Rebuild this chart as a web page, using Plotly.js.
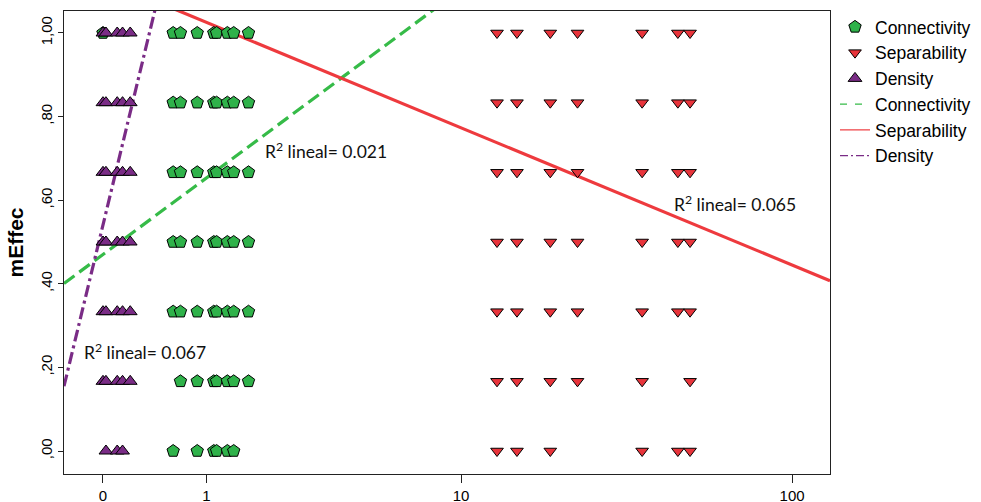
<!DOCTYPE html>
<html>
<head>
<meta charset="utf-8">
<script src="https://cdn.plot.ly/plotly-3.0.1.min.js"></script>
<style>
  html, body { margin: 0; padding: 0; background: #ffffff; }
  #chart { width: 981px; height: 502px; }
</style>
</head>
<body>
<div id="chart"></div>
<script>
// mEffec against each measure; the x axis is drawn on a log10(x + 1) scale.

// Connectivity observations
var connX = [
  0, 0.6, 0.68, 0.88, 1.1, 1.14, 1.3, 1.4, 1.65,
  0.6, 0.68, 0.88, 1.1, 1.14, 1.3, 1.4, 1.65,
  0.6, 0.68, 0.88, 1.1, 1.14, 1.3, 1.4, 1.65,
  0.6, 0.68, 0.88, 1.1, 1.14, 1.3, 1.4, 1.65,
  0.6, 0.68, 0.88, 1.1, 1.14, 1.3, 1.4, 1.65,
  0.68, 0.88, 1.1, 1.14, 1.3, 1.4, 1.65,
  0.6, 0.88, 1.1, 1.14, 1.3, 1.4
];
var connY = [
  1, 1, 1, 1, 1, 1, 1, 1, 1,
  0.8333, 0.8333, 0.8333, 0.8333, 0.8333, 0.8333, 0.8333, 0.8333,
  0.6667, 0.6667, 0.6667, 0.6667, 0.6667, 0.6667, 0.6667, 0.6667,
  0.5, 0.5, 0.5, 0.5, 0.5, 0.5, 0.5, 0.5,
  0.3333, 0.3333, 0.3333, 0.3333, 0.3333, 0.3333, 0.3333, 0.3333,
  0.1667, 0.1667, 0.1667, 0.1667, 0.1667, 0.1667, 0.1667,
  0, 0, 0, 0, 0, 0
];

// Separability observations
var sepX = [
  13, 15, 19, 23, 36, 46, 50,
  13, 15, 19, 23, 36, 46, 50,
  13, 15, 19, 23, 36, 46, 50,
  13, 15, 19, 23, 36, 46, 50,
  13, 15, 19, 23, 36, 46, 50,
  13, 15, 19, 23, 36, 50,
  13, 15, 19, 36, 46, 50
];
var sepY = [
  1, 1, 1, 1, 1, 1, 1,
  0.8333, 0.8333, 0.8333, 0.8333, 0.8333, 0.8333, 0.8333,
  0.6667, 0.6667, 0.6667, 0.6667, 0.6667, 0.6667, 0.6667,
  0.5, 0.5, 0.5, 0.5, 0.5, 0.5, 0.5,
  0.3333, 0.3333, 0.3333, 0.3333, 0.3333, 0.3333, 0.3333,
  0.1667, 0.1667, 0.1667, 0.1667, 0.1667, 0.1667,
  0, 0, 0, 0, 0, 0
];

// Density observations
var densX = [
  0, 0.02, 0.1, 0.14, 0.2,
  0, 0.02, 0.1, 0.14, 0.2,
  0, 0.02, 0.1, 0.14, 0.2,
  0, 0.02, 0.1, 0.14, 0.2,
  0, 0.02, 0.1, 0.14, 0.2,
  0, 0.02, 0.1, 0.14, 0.2,
  0.02, 0.1, 0.14
];
var densY = [
  1, 1, 1, 1, 1,
  0.8333, 0.8333, 0.8333, 0.8333, 0.8333,
  0.6667, 0.6667, 0.6667, 0.6667, 0.6667,
  0.5, 0.5, 0.5, 0.5, 0.5,
  0.3333, 0.3333, 0.3333, 0.3333, 0.3333,
  0.1667, 0.1667, 0.1667, 0.1667, 0.1667,
  0, 0, 0
];

// Linear fits on the transformed scale: [intercept, slope]
var fitConnectivity = [0.470, 0.609];
var fitSeparability = [1.128, -0.3408];
var fitDensity = [0.5407, 3.401];

// R-squared of each fit
var r2Connectivity = '0.021';
var r2Separability = '0.065';
var r2Density = '0.067';

// Axis ticks
var xTickValues = [0, 1, 10, 100];
var xTickLabels = ['0', '1', '10', '100'];
var yTickValues = [0, 0.2, 0.4, 0.6, 0.8, 1.0];
var yTickLabels = [',00', ',20', ',40', ',60', ',80', '1,00'];

var seriesNames = ['Connectivity', 'Separability', 'Density'];

function tx(v) { return Math.log10(v + 1); }

var xRange = [-0.1134, 2.1146];
var yRange = [-0.055, 1.0526];

var GREEN = '#2fb24a';
var GREEN_LINE = '#36bb48';
var RED = '#e8343b';
var RED_LINE = '#ee3a3e';
var PURPLE = '#7a2c86';

function fitTrace(fit, name, color, dash, width, legend) {
  var xs = legend ? [null] : [xRange[0], xRange[1]];
  var ys = legend ? [null] : xs.map(function (x) { return fit[0] + fit[1] * x; });
  return {
    x: xs, y: ys, type: 'scatter', mode: 'lines', name: name,
    showlegend: legend, hoverinfo: 'skip',
    line: { color: color, dash: dash, width: width }
  };
}

var markerLine = { color: '#000000', width: 1 };

var traces = [
  fitTrace(fitConnectivity, seriesNames[0], GREEN_LINE, '13px,6px', 3.2, false),
  fitTrace(fitSeparability, seriesNames[1], RED_LINE, 'solid', 3.2, false),
  fitTrace(fitDensity, seriesNames[2], PURPLE, '12px,4px,3px,4px', 3.2, false),
  {
    x: connX.map(tx), y: connY, type: 'scatter', mode: 'markers', name: seriesNames[0],
    marker: { symbol: 'pentagon', size: 13, color: GREEN, line: markerLine }
  },
  {
    x: sepX.map(tx), y: sepY, type: 'scatter', mode: 'markers', name: seriesNames[1],
    marker: { symbol: 'triangle-down', size: 11, color: RED, line: markerLine }
  },
  {
    x: densX.map(tx), y: densY, type: 'scatter', mode: 'markers', name: seriesNames[2],
    marker: { symbol: 'triangle-up', size: 12, color: PURPLE, line: markerLine }
  },
  fitTrace(fitConnectivity, seriesNames[0], GREEN_LINE, '7px,8px', 1.2, true),
  fitTrace(fitSeparability, seriesNames[1], RED_LINE, 'solid', 1.2, true),
  fitTrace(fitDensity, seriesNames[2], PURPLE, '8px,3px,2px,3px', 1.2, true)
];

var annFont = { family: 'Lato, "Open Sans", sans-serif', size: 17.5, color: '#111111' };
function r2Label(x, y, r2) {
  return {
    x: x, y: y, xref: 'x', yref: 'y', xanchor: 'left', yanchor: 'middle',
    text: 'R<sup>2</sup> lineal= ' + r2, showarrow: false, font: annFont
  };
}

var layout = {
  width: 981, height: 502,
  margin: { l: 64, r: 151, t: 11, b: 28 },
  paper_bgcolor: '#ffffff', plot_bgcolor: '#ffffff',
  font: { family: '"Liberation Sans", Arial, sans-serif', color: '#000000' },
  showlegend: true,
  legend: {
    xref: 'container', yref: 'container',
    x: 835 / 981, y: 1 - 9 / 502, xanchor: 'left', yanchor: 'top',
    font: { size: 17.5, family: '"Liberation Sans", Arial, sans-serif' },
    traceorder: 'normal', bgcolor: 'rgba(0,0,0,0)', tracegroupgap: 0,
    itemwidth: 30
  },
  xaxis: {
    range: xRange, showgrid: false, zeroline: false,
    showline: true, mirror: true, linecolor: '#222222', linewidth: 1,
    ticks: 'outside', ticklen: 8, tickcolor: '#222222',
    tickvals: xTickValues.map(tx), ticktext: xTickLabels,
    tickfont: { size: 15 }, automargin: false
  },
  yaxis: {
    range: yRange, showgrid: false, zeroline: false,
    showline: true, mirror: true, linecolor: '#222222', linewidth: 1,
    ticks: 'outside', ticklen: 5, tickcolor: '#222222',
    tickvals: yTickValues, ticktext: yTickLabels, tickangle: -90,
    tickfont: { size: 15 }, automargin: false,
    title: { text: '<b>mEffec</b>', font: { size: 21 }, standoff: 8 }
  },
  annotations: [
    r2Label(0.4654, 0.72, r2Connectivity),
    r2Label(1.655, 0.593, r2Separability),
    r2Label(-0.062, 0.237, r2Density)
  ]
};

Plotly.newPlot('chart', traces, layout, { displayModeBar: false, staticPlot: true });
</script>
</body>
</html>
